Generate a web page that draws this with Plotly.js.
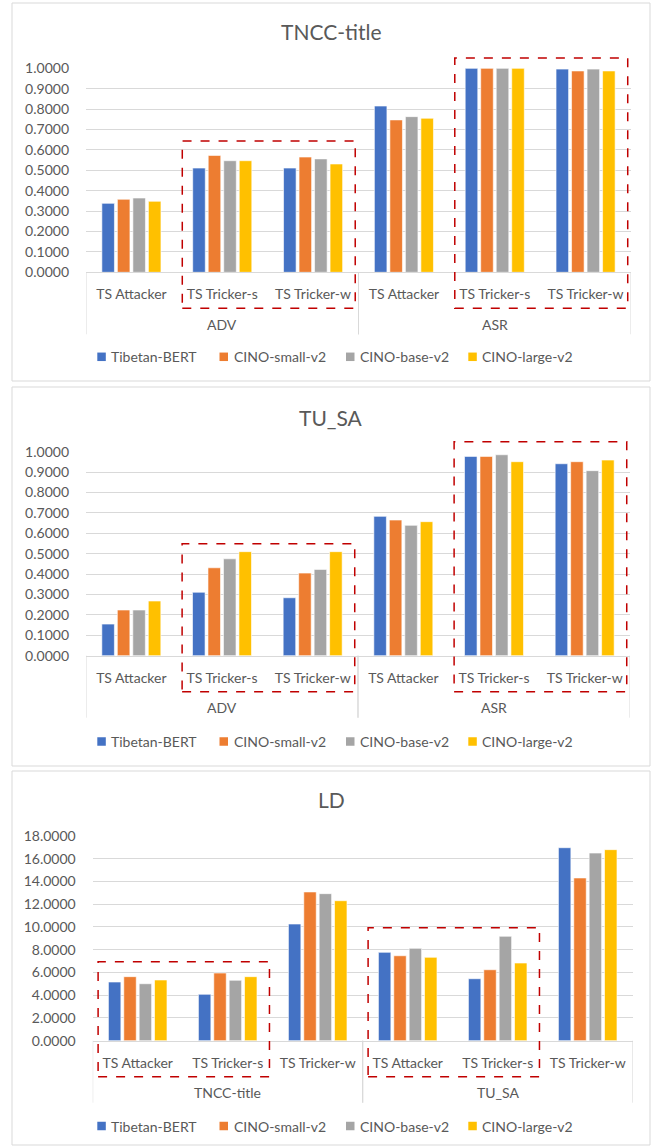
<!DOCTYPE html>
<html><head><meta charset="utf-8">
<script src="https://cdn.plot.ly/plotly-3.0.1.min.js"></script>
<style>html,body{margin:0;padding:0;background:#fff}#chart{width:653px;height:1147px}</style>
</head><body><div id="chart"></div>
<script>
// ---------- data ----------
const seriesNames = ['Tibetan-BERT', 'CINO-small-v2', 'CINO-base-v2', 'CINO-large-v2'];
const seriesColors = ['#4472C4', '#ED7D31', '#A5A5A5', '#FFC000'];

// Panel 1: TNCC-title
const p1Title = 'TNCC-title';
const p1Groups = ['ADV', 'ADV', 'ADV', 'ASR', 'ASR', 'ASR'];
const p1Cats = ['TS Attacker', 'TS Tricker-s', 'TS Tricker-w', 'TS Attacker', 'TS Tricker-s', 'TS Tricker-w'];
const p1TibetanBERT = [0.338, 0.511, 0.511, 0.815, 1.000, 0.996];
const p1CinoSmall   = [0.358, 0.573, 0.565, 0.747, 1.000, 0.987];
const p1CinoBase    = [0.364, 0.547, 0.556, 0.763, 1.000, 0.996];
const p1CinoLarge   = [0.348, 0.547, 0.531, 0.755, 1.000, 0.987];

// Panel 2: TU_SA
const p2Title = 'TU_SA';
const p2Groups = ['ADV', 'ADV', 'ADV', 'ASR', 'ASR', 'ASR'];
const p2Cats = ['TS Attacker', 'TS Tricker-s', 'TS Tricker-w', 'TS Attacker', 'TS Tricker-s', 'TS Tricker-w'];
const p2TibetanBERT = [0.155, 0.311, 0.284, 0.683, 0.977, 0.941];
const p2CinoSmall   = [0.224, 0.431, 0.405, 0.665, 0.977, 0.951];
const p2CinoBase    = [0.224, 0.475, 0.423, 0.639, 0.985, 0.907];
const p2CinoLarge   = [0.268, 0.510, 0.510, 0.657, 0.951, 0.959];

// Panel 3: LD
const p3Title = 'LD';
const p3Groups = ['TNCC-title', 'TNCC-title', 'TNCC-title', 'TU_SA', 'TU_SA', 'TU_SA'];
const p3Cats = ['TS Attacker', 'TS Tricker-s', 'TS Tricker-w', 'TS Attacker', 'TS Tricker-s', 'TS Tricker-w'];
const p3TibetanBERT = [5.16, 4.08, 10.26, 7.77, 5.45, 16.97];
const p3CinoSmall   = [5.63, 5.95, 13.08, 7.47, 6.24, 14.31];
const p3CinoBase    = [5.01, 5.31, 12.93, 8.12, 9.18, 16.50];
const p3CinoLarge   = [5.34, 5.63, 12.31, 7.33, 6.83, 16.80];

// ---------- layout helpers ----------
const W = 653, H = 1147;
const px = v => v / W;
const py = v => 1 - v / H;
const textColor = '#595959';
const gridColor = '#D9D9D9';
const FONT = 'Lato, "Open Sans", sans-serif';
const legendX = [97.3, 219.5, 346, 468.3];   // left edge of each legend swatch
const swatch = 8.5;

const panels = [
  {title: p1Title, groups: p1Groups, cats: p1Cats, series: [p1TibetanBERT, p1CinoSmall, p1CinoBase, p1CinoLarge],
   box: [12, 3, 650, 381], plot: [86, 68.3, 631, 272.3], yMax: 1.0, dtick: 0.1, titleY: 32, legendY: 356.8,
   rects: [{from: 1, to: 3, top: 0.644}, {from: 4, to: 6, top: 1.05}]},
  {title: p2Title, groups: p2Groups, cats: p2Cats, series: [p2TibetanBERT, p2CinoSmall, p2CinoBase, p2CinoLarge],
   box: [12, 387, 650, 766], plot: [86, 451.7, 630, 655.7], yMax: 1.0, dtick: 0.1, titleY: 417, legendY: 741.5,
   rects: [{from: 1, to: 3, top: 0.549}, {from: 4, to: 6, top: 1.049}]},
  {title: p3Title, groups: p3Groups, cats: p3Cats, series: [p3TibetanBERT, p3CinoSmall, p3CinoBase, p3CinoLarge],
   box: [12, 771, 650, 1145], plot: [92.7, 836, 632.7, 1040.7], yMax: 18, dtick: 2, titleY: 799, legendY: 1126,
   rects: [{from: 0, to: 2, top: 6.95}, {from: 3, to: 5, top: 9.94}]}
];

const data = [];
const layout = {
  width: W, height: H,
  margin: {l: 0, r: 0, t: 0, b: 0},
  paper_bgcolor: '#ffffff', plot_bgcolor: '#ffffff',
  font: {family: FONT, size: 14, color: textColor},
  barmode: 'group', bargap: 0.317, bargroupgap: 0.19,
  showlegend: false,
  shapes: [], annotations: []
};

panels.forEach((p, k) => {
  const sfx = k === 0 ? '' : String(k + 1);
  const idx = p.cats.map((c, i) => i);
  const n = p.cats.length;
  const plotH = p.plot[3] - p.plot[1];
  p.series.forEach((vals, s) => {
    data.push({
      type: 'bar',
      x: idx,
      y: vals,
      name: seriesNames[s],
      marker: {color: seriesColors[s], line: {color: 'rgba(255,255,255,0.6)', width: 1}},
      xaxis: 'x' + sfx, yaxis: 'y' + sfx,
      hoverinfo: 'skip'
    });
  });
  layout['xaxis' + sfx] = {
    domain: [px(p.plot[0]), px(p.plot[2])],
    anchor: 'y' + sfx,
    type: 'linear',
    range: [-0.5, n - 0.5],
    tickmode: 'array', tickvals: idx, ticktext: p.cats,
    showline: true, linecolor: gridColor, linewidth: 1,
    showgrid: false, zeroline: false, ticks: '',
    tickfont: {family: FONT, size: 14, color: textColor},
    ticklabelstandoff: 9,
    fixedrange: true
  };
  layout['yaxis' + sfx] = {
    domain: [py(p.plot[3]), py(p.plot[1])],
    anchor: 'x' + sfx,
    range: [0, p.yMax],
    dtick: p.dtick, tick0: 0,
    tickformat: '.4f',
    showgrid: true, gridcolor: gridColor, gridwidth: 1,
    zeroline: false, showline: false, ticks: '',
    tickfont: {family: FONT, size: 14, color: textColor},
    ticklabelstandoff: 16,
    fixedrange: true
  };
  // panel border
  layout.shapes.push({type: 'rect', xref: 'paper', yref: 'paper', layer: 'below',
    x0: px(p.box[0]), x1: px(p.box[2]), y0: py(p.box[3]), y1: py(p.box[1]),
    line: {color: gridColor, width: 1}, fillcolor: 'rgba(0,0,0,0)'});
  // title
  layout.annotations.push({text: p.title, xref: 'paper', yref: 'paper', x: px(331), y: py(p.titleY),
    xanchor: 'center', yanchor: 'middle', showarrow: false,
    font: {family: FONT, size: 21, color: textColor}});
  // legend (swatch + name for each series)
  seriesNames.forEach((nm, s) => {
    const x0 = legendX[s];
    layout.shapes.push({type: 'rect', xref: 'paper', yref: 'paper',
      x0: px(x0), x1: px(x0 + swatch), y0: py(p.legendY + swatch / 2), y1: py(p.legendY - swatch / 2),
      line: {width: 0}, fillcolor: seriesColors[s]});
    layout.annotations.push({text: nm, xref: 'paper', yref: 'paper', x: px(x0 + swatch + 3.5), y: py(p.legendY),
      xanchor: 'left', yanchor: 'middle', showarrow: false,
      font: {family: FONT, size: 14, color: textColor}});
  });
  // group labels + dividers (second category level)
  const groupNames = [...new Set(p.groups)];
  groupNames.forEach(g => {
    const members = idx.filter(i => p.groups[i] === g);
    const first = members[0], last = members[members.length - 1];
    layout.annotations.push({text: g, xref: 'x' + sfx, yref: 'y' + sfx + ' domain',
      x: (first + last) / 2, y: -52 / plotH, xanchor: 'center', yanchor: 'middle', showarrow: false,
      font: {family: FONT, size: 14, color: textColor}});
    [first - 0.5, last + 0.5].forEach(xv => {
      layout.shapes.push({type: 'line', xref: 'x' + sfx, yref: 'y' + sfx + ' domain',
        x0: xv, x1: xv, y0: 0, y1: -62 / plotH, line: {color: gridColor, width: 1}});
    });
  });
  // highlight rectangles
  p.rects.forEach(r => {
    layout.shapes.push({type: 'rect', xref: 'x' + sfx + ' domain', yref: 'y' + sfx + ' domain',
      x0: r.from / n + 0.01, x1: r.to / n - 0.006,
      y0: -36 / plotH, y1: r.top / p.yMax,
      line: {color: '#C00000', width: 1.5, dash: 'dash'}, fillcolor: 'rgba(0,0,0,0)'});
  });
});

Plotly.newPlot('chart', data, layout, {staticPlot: true, displayModeBar: false});
</script>
</body></html>
